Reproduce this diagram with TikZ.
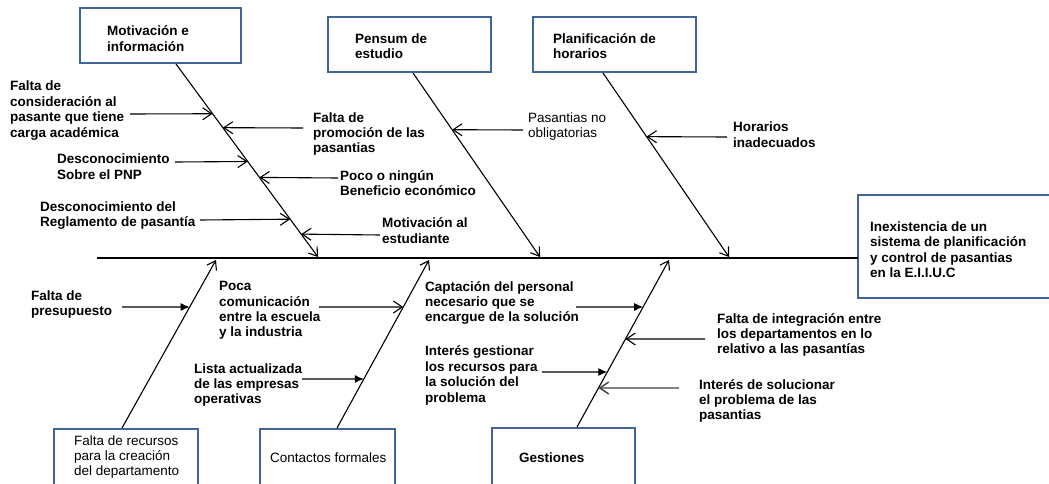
\documentclass[tikz,border=0pt]{standalone}
\usepackage{fontspec}
\setmainfont{Liberation Sans}
\usetikzlibrary{arrows.meta,calc}
\definecolor{boxblue}{RGB}{66,100,152}
\definecolor{arrgray}{RGB}{64,64,64}
\begin{document}
\begin{tikzpicture}[x=1pt,y=-1pt,
  box/.style={draw=boxblue,line width=2.4pt,inner sep=0pt,outer sep=0pt,anchor=north west},
  lbl/.style={font=\fontsize{13.5}{15.4}\selectfont\bfseries,align=left,anchor=west,inner sep=0pt},
  lblr/.style={font=\fontsize{13.5}{15.4}\selectfont,align=left,anchor=west,inner sep=0pt},
  bone/.style={line width=1.1pt,-{Straight Barb[length=8pt,width=11pt,line width=1.1pt]}},
  openarr/.style={line width=1.1pt,-{Straight Barb[length=9pt,width=12pt,line width=1.1pt]}},
  grayarr/.style={draw=arrgray,line width=1.4pt,-{Straight Barb[length=9pt,width=12pt,line width=1.4pt,color=arrgray]}},
  fillarr/.style={line width=1.1pt,-{Latex[length=9pt,width=8pt]}},
  spine/.style={line width=2.4pt}]
\useasboundingbox (0,0) rectangle (1049,484);
\clip (0,0) rectangle (1049,484);

% boxes
\node[box,minimum width=161pt,minimum height=55pt] (mot) at (80,8) {};
\node[box,minimum width=163pt,minimum height=55pt] (pen) at (328,17) {};
\node[box,minimum width=163pt,minimum height=55pt] (pla) at (533,17) {};
\node[box,minimum width=200pt,minimum height=103pt] (eff) at (858,195) {};
\node[box,minimum width=144pt,minimum height=70pt] (rec) at (54,429) {};
\node[box,minimum width=135pt,minimum height=70pt] (con) at (260,429) {};
\node[box,minimum width=143pt,minimum height=70pt] (ges) at (492,428) {};

% box texts
\node[lbl] (tmot) at (107,38.5) {Motivación e\\información};
\node[lbl] (tpen) at (355,46) {Pensum de\\estudio};
\node[lbl] (tpla) at (553,46) {Planificación de\\horarios};
\node[lbl] (teff) at (870,249.5) {Inexistencia de un\\sistema de planificación\\y control de pasantias\\en la E.I.I.U.C};
\node[lblr] (trec) at (74,457) {Falta de recursos\\para la creación\\del departamento};
\node[lblr] (tcon) at (270,458) {Contactos formales};
\node[lbl] (tges) at (519,458) {Gestiones};

% spine
\coordinate (s0) at (97,258);
\draw[spine] (s0) -- (s0 -| eff.west);

% bones
\coordinate (m0) at (176,64);  \coordinate (m1) at (318,257);
\coordinate (p0) at (413,73);  \coordinate (p1) at (540,257);
\coordinate (q0) at (603,73);  \coordinate (q1) at (729,257);
\coordinate (f0) at (122,428); \coordinate (f1) at (216,260);
\coordinate (g0) at (337,428); \coordinate (g1) at (429,260);
\coordinate (h0) at (577,427); \coordinate (h1) at (669,260);
\draw[bone] (m0) -- (m1);
\draw[bone] (p0) -- (p1);
\draw[bone] (q0) -- (q1);
\draw[bone] (f0) -- (f1);
\draw[bone] (g0) -- (g1);
\draw[bone] (h0) -- (h1);

% cause labels
\node[lbl] (ta1) at (10,110.5) {Falta de\\consideración al\\pasante que tiene\\carga académica};
\node[lbl] (ta2) at (313,134) {Falta de\\promoción de las\\pasantias};
\node[lbl] (ta3) at (57,166.5) {Desconocimiento\\Sobre el PNP};
\node[lbl] (ta4) at (340,183) {Poco o ningún\\Beneficio económico};
\node[lbl] (ta5) at (40,215.5) {Desconocimiento del\\Reglamento de pasantía};
\node[lbl] (ta6) at (382,230.5) {Motivación al\\estudiante};
\node[lblr] (tb1) at (528,126.5) {Pasantias no\\obligatorias};
\node[lbl] (tc1) at (733,134.5) {Horarios\\inadecuados};
\node[lbl] (td1) at (31,304.5) {Falta de\\presupuesto};
\node[lbl] (te1) at (219,310.5) {Poca\\comunicación\\entre la escuela\\y la industria};
\node[lbl] (te2) at (194,385) {Lista actualizada\\de las empresas\\operativas};
\node[lbl] (tf1) at (425,303) {Captación del personal\\necesario que se\\encargue de la solución};
\node[lbl] (tf2) at (425,375.5) {Interés gestionar\\los recursos para\\la solución del\\problema};
\node[lbl] (tf3) at (717,335) {Falta de integración entre\\los departamentos en lo\\relativo a las pasantías};
\node[lbl] (tf4) at (699,401) {Interés de solucionar\\el problema de las\\pasantias};

% cause arrows
\coordinate (a1s) at (130,114); \coordinate (a1e) at ($(m0)!0.2577!(m1)$);
\coordinate (a2s) at (303,128); \coordinate (a2e) at ($(m0)!0.3299!(m1)$);
\coordinate (a3s) at (175,162); \coordinate (a3e) at ($(m0)!0.5052!(m1)$);
\coordinate (a4s) at (338,178); \coordinate (a4e) at ($(m0)!0.5876!(m1)$);
\coordinate (a5s) at (200,220); \coordinate (a5e) at ($(m0)!0.8041!(m1)$);
\coordinate (a6s) at (380,235); \coordinate (a6e) at ($(m0)!0.8814!(m1)$);
\coordinate (b1s) at (523,130); \coordinate (b1e) at ($(p0)!0.3081!(p1)$);
\coordinate (c1s) at (727,137); \coordinate (c1e) at ($(q0)!0.3459!(q1)$);
\coordinate (d1s) at (122,307); \coordinate (d1e) at ($(f0)!0.7202!(f1)$);
\coordinate (e1s) at (319,307); \coordinate (e1e) at ($(g0)!0.7202!(g1)$);
\coordinate (e2s) at (302,379); \coordinate (e2e) at ($(g0)!0.2917!(g1)$);
\coordinate (f1s) at (576,307); \coordinate (f1e) at ($(h0)!0.7186!(h1)$);
\coordinate (f2s) at (542,372); \coordinate (f2e) at ($(h0)!0.3293!(h1)$);
\coordinate (f3s) at (705,339); \coordinate (f3e) at ($(h0)!0.5269!(h1)$);
\coordinate (f4s) at (679,388); \coordinate (f4e) at ($(h0)!0.2335!(h1)$);

\draw[openarr] (a1s) -- (a1e);
\draw[openarr] (a2s) -- (a2e);
\draw[openarr] (a3s) -- (a3e);
\draw[openarr] (a4s) -- (a4e);
\draw[openarr] (a5s) -- (a5e);
\draw[openarr] (a6s) -- (a6e);
\draw[openarr] (b1s) -- (b1e);
\draw[openarr] (c1s) -- (c1e);
\draw[fillarr] (d1s) -- (d1e);
\draw[openarr] (e1s) -- (e1e);
\draw[fillarr] (e2s) -- (e2e);
\draw[fillarr] (f1s) -- (f1e);
\draw[fillarr] (f2s) -- (f2e);
\draw[openarr] (f3s) -- (f3e);
\draw[grayarr] (f4s) -- (f4e);
\end{tikzpicture}
\end{document}
